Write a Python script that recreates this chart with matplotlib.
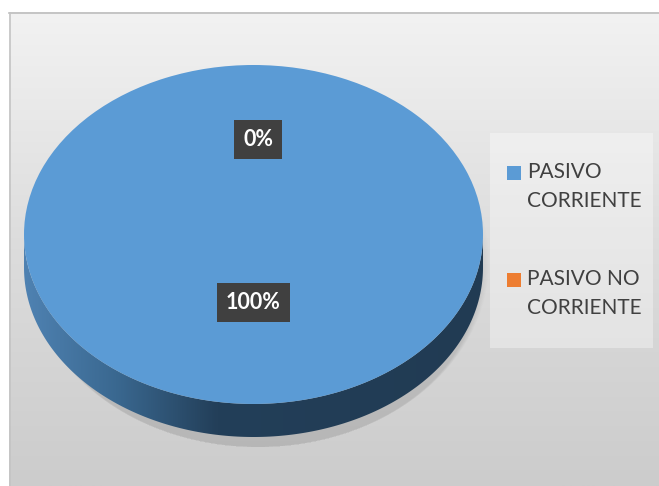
import numpy as np
import matplotlib.pyplot as plt
from matplotlib.colors import LinearSegmentedColormap
from matplotlib.patches import Rectangle, Polygon, Ellipse

categories = ['PASIVO\nCORRIENTE', 'PASIVO NO\nCORRIENTE']
values = [100, 0]
colors = ['#5b9bd5', '#ed7d31']

W, H = 659, 486
fig = plt.figure(figsize=(W / 100, H / 100), dpi=100)
fig.patch.set_facecolor('white')

# background axes in pixel coordinates
bg = fig.add_axes([0, 0, 1, 1])
bg.set_xlim(0, W)
bg.set_ylim(H, 0)
bg.axis('off')

grad = np.linspace(0, 1, 256).reshape(-1, 1)
cmap_bg = LinearSegmentedColormap.from_list('bg', ['#f2f2f2', '#dcdcdc', '#cccccc'])
bg.imshow(grad, extent=[9, W, H, 13], cmap=cmap_bg, aspect='auto', zorder=0)
bg.plot([9, W], [13.5, 13.5], color='#bdbdbd', lw=1.2, zorder=1)
bg.plot([9.5, 9.5], [13, H], color='#c4c4c4', lw=1.2, zorder=1)

# soft shadow under the pie
for i in range(12):
    bg.add_patch(Ellipse((258, 262 + i * 1.5), 462 - i * 2, 370 - i * 3,
                         fc='#8a8a8a', ec='none', alpha=0.025, zorder=1))

# pie axes
depth = 0.195
ax = fig.add_axes([24 / W, (H - 437) / H, 459 / W, 372 / H])
wedges, texts, autotexts = ax.pie(values, colors=colors, startangle=90, counterclock=False,
                                  autopct='%1.0f%%', pctdistance=0.4,
                                  wedgeprops=dict(linewidth=0),
                                  textprops=dict(color='white', fontsize=15.5,
                                                 fontweight='bold', family='Lato'))
ax.set_aspect('auto')
ax.axis('off')
for w in wedges:
    w.set_zorder(3)

# side of the cylinder
t = np.linspace(np.pi, 2 * np.pi, 200)
xs = np.concatenate([np.cos(t), np.cos(t[::-1])])
ys = np.concatenate([np.sin(t), np.sin(t[::-1]) - depth])
side = Polygon(np.column_stack([xs, ys]), closed=True, fc='none', ec='none')
ax.add_patch(side)
cmap_side = LinearSegmentedColormap.from_list(
    'side', [(0, '#4f82b2'), (0.2, '#3a6890'), (0.42, '#233f59'), (1, '#213b53')])
im = ax.imshow(np.linspace(0, 1, 256).reshape(1, -1), extent=[-1, 1, -1 - depth, 0],
               cmap=cmap_side, aspect='auto', zorder=2)
im.set_clip_path(side)

ax.set_xlim(-1, 1)
ax.set_ylim(-1 - depth, 1)

autotexts[1].set_position((0.02, 0.56))
for at in autotexts:
    at.set_zorder(5)
    at.set_bbox(dict(boxstyle='square,pad=0.42', fc='#404040', ec='none'))

# legend
bg.add_patch(Rectangle((490, 133), 163, 215, fc='white', ec='none', alpha=0.35, zorder=1))
for i, (lab, c) in enumerate(zip(categories, colors)):
    y0 = 173 + i * 107
    bg.add_patch(Rectangle((507, y0 - 7), 14, 14, fc=c, ec='none', zorder=2))
    bg.text(527, y0 - 11, lab, fontsize=15, family='Lato', color='#404040',
            va='top', ha='left', linespacing=1.55, zorder=2)

fig.savefig('out.png', dpi=100)
